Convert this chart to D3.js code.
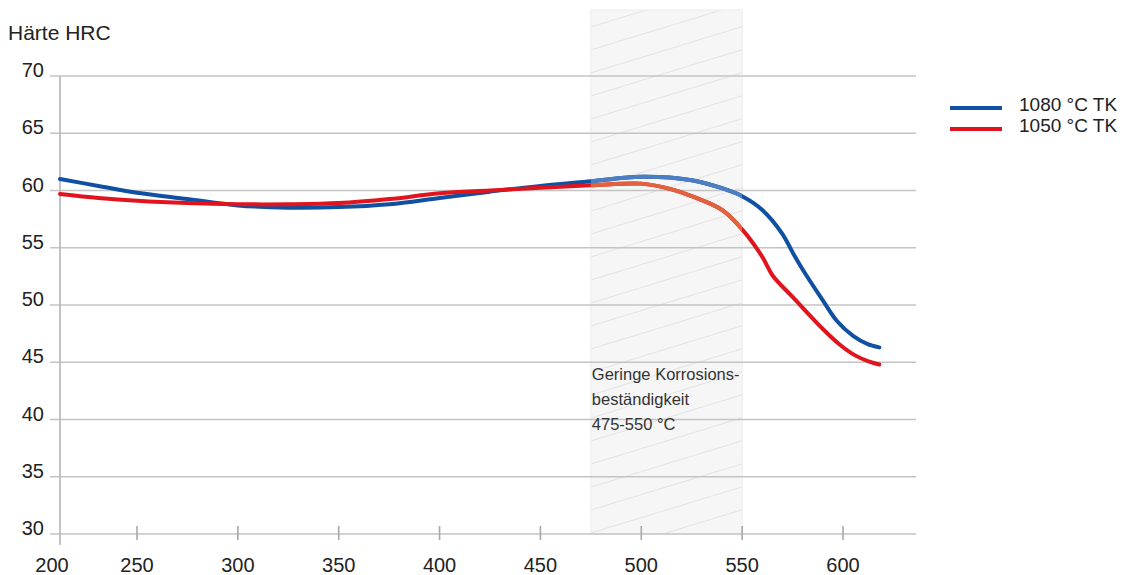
<!DOCTYPE html>
<html>
<head>
<meta charset="utf-8">
<script src="https://cdn.jsdelivr.net/npm/d3@7"></script>
<style>
  body { margin: 0; background: #fff; }
  svg { display: block; font-family: "Liberation Sans", Arial, sans-serif; }
</style>
</head>
<body>
<script>
// temperatures (°C) and hardness (HRC)
const tempBlue = [200, 225, 250, 275, 300, 325, 350, 375, 400, 425, 450, 475, 500, 525, 540, 550, 560, 570, 575, 580, 590, 597, 605, 612, 618];
const hrc1080 = [61.0, 60.4, 59.8, 59.25, 58.7, 58.5, 58.55, 58.8, 59.35, 59.9, 60.4, 60.8, 61.2, 60.9, 60.2, 59.5, 58.3, 56.2, 54.6, 53.1, 50.4, 48.6, 47.3, 46.6, 46.3];
const tempRed = [200, 225, 250, 275, 300, 325, 350, 375, 400, 425, 450, 475, 500, 515, 525, 540, 550, 560, 565, 575, 590, 598, 606, 613, 618];
const hrc1050 = [59.7, 59.35, 59.1, 58.9, 58.8, 58.8, 58.9, 59.25, 59.75, 60.0, 60.25, 60.45, 60.6, 60.1, 59.5, 58.3, 56.6, 54.2, 52.6, 50.7, 47.9, 46.6, 45.6, 45.05, 44.8];
const yTicks = [30, 35, 40, 45, 50, 55, 60, 65, 70];
const xTicks = [200, 250, 300, 350, 400, 450, 500, 550, 600];
const band = [475, 550];
const bandText = ["Geringe Korrosions-", "beständigkeit", "475-550 °C"];
const legendNames = ["1080 °C TK", "1050 °C TK"];

const W = 1124, H = 575;
const colors = ["#0f50a2", "#e1141e"];
const colorsFaded = ["#4d7ec3", "#e2623e"];

const x = d3.scaleLinear().domain([200, 250, 600]).range([60, 137, 843]);
const y = d3.scaleLinear().domain([30, 70]).range([534, 76]);

const svg = d3.select("body").append("svg")
  .attr("width", W).attr("height", H);

const defs = svg.append("defs");
const pat = defs.append("pattern")
  .attr("id", "hatch")
  .attr("patternUnits", "userSpaceOnUse")
  .attr("width", 22).attr("height", 22)
  .attr("patternTransform", "rotate(73)");
pat.append("rect").attr("width", 22).attr("height", 22).attr("fill", "#f6f6f6");
pat.append("line").attr("x1", 0).attr("y1", 0).attr("x2", 0).attr("y2", 22)
  .attr("stroke", "#d0d0d0").attr("stroke-width", 1);

defs.append("clipPath").attr("id", "bandclip")
  .append("rect")
  .attr("x", x(band[0])).attr("y", 0)
  .attr("width", x(band[1]) - x(band[0])).attr("height", H);

// hatched band
svg.append("rect")
  .attr("x", x(band[0])).attr("y", 10)
  .attr("width", x(band[1]) - x(band[0]))
  .attr("height", y(30) - 10)
  .attr("fill", "url(#hatch)")
  .attr("stroke", "#ececec");

// grid
svg.append("g")
  .selectAll("line")
  .data(yTicks)
  .join("line")
  .attr("x1", 50).attr("x2", 916)
  .attr("y1", d => y(d)).attr("y2", d => y(d))
  .attr("stroke", "#c4c4c4").attr("stroke-width", 1.6);

// y axis line
svg.append("line")
  .attr("x1", x(200)).attr("x2", x(200))
  .attr("y1", y(70)).attr("y2", y(30) + 11)
  .attr("stroke", "#b4b4b4").attr("stroke-width", 1.6);

// x ticks
svg.append("g")
  .selectAll("line")
  .data(xTicks.slice(1))
  .join("line")
  .attr("x1", d => x(d)).attr("x2", d => x(d))
  .attr("y1", y(30) - 8).attr("y2", y(30) + 6)
  .attr("stroke", "#a8a8a8").attr("stroke-width", 1.6);

// labels
svg.append("g")
  .selectAll("text")
  .data(yTicks)
  .join("text")
  .attr("x", 44).attr("y", d => y(d) + 1)
  .attr("text-anchor", "end")
  .attr("font-size", 20).attr("fill", "#222")
  .text(d => d);

svg.append("g")
  .selectAll("text")
  .data(xTicks)
  .join("text")
  .attr("x", d => d === 200 ? 52 : x(d)).attr("y", 572)
  .attr("text-anchor", "middle")
  .attr("font-size", 20).attr("fill", "#222")
  .text(d => d);

svg.append("text")
  .attr("x", 8).attr("y", 40)
  .attr("font-size", 21).attr("fill", "#222")
  .text("Härte HRC");

svg.append("g")
  .selectAll("text")
  .data(bandText)
  .join("text")
  .attr("x", x(band[0]) + 1).attr("y", (d, i) => 380 + i * 25)
  .attr("font-size", 16.5).attr("fill", "#333")
  .text(d => d);

// curves
const series = [
  { t: tempBlue, v: hrc1080 },
  { t: tempRed, v: hrc1050 }
];
const line = d3.line()
  .x(d => x(d[0])).y(d => y(d[1]))
  .curve(d3.curveCatmullRom.alpha(0.5));

series.forEach((s, i) => {
  const pts = s.t.map((t, j) => [t, s.v[j]]);
  svg.append("path")
    .attr("d", line(pts))
    .attr("fill", "none")
    .attr("stroke", colors[i])
    .attr("stroke-width", 4)
    .attr("stroke-linecap", "round");
});
// faded part inside the band
series.forEach((s, i) => {
  const pts = s.t.map((t, j) => [t, s.v[j]]);
  svg.append("path")
    .attr("d", line(pts))
    .attr("clip-path", "url(#bandclip)")
    .attr("fill", "none")
    .attr("stroke", colorsFaded[i])
    .attr("stroke-width", 4);
});

// legend
const leg = svg.append("g")
  .selectAll("g")
  .data(legendNames)
  .join("g")
  .attr("transform", (d, i) => `translate(950,${108 + i * 21})`);
leg.append("line")
  .attr("x1", 0).attr("x2", 52)
  .attr("stroke", (d, i) => colors[i])
  .attr("stroke-width", 4);
leg.append("text")
  .attr("x", 69).attr("y", 3)
  .attr("font-size", 19).attr("fill", "#222")
  .text(d => d);
</script>
</body>
</html>
